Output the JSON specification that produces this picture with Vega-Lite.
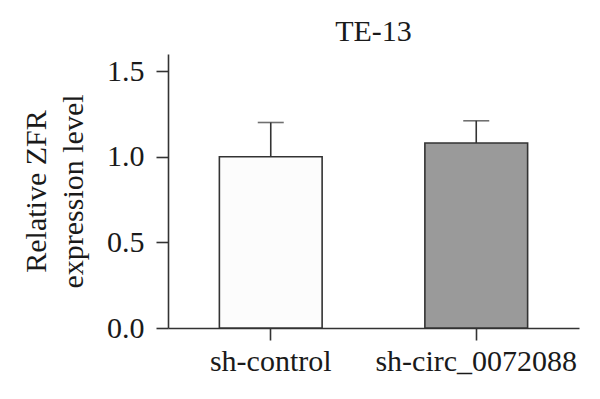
{
  "$schema": "https://vega.github.io/schema/vega-lite/v6.json",
  "autosize": "none",
  "width": 411,
  "height": 274,
  "padding": {"left": 168, "top": 54, "right": 21, "bottom": 71},
  "background": "white",
  "config": {
    "view": {"stroke": null},
    "font": "Liberation Serif",
    "axis": {
      "domainColor": "#333333",
      "domainWidth": 1.6,
      "tickColor": "#333333",
      "tickWidth": 1.6,
      "tickSize": 12,
      "grid": false,
      "labelFont": "Liberation Serif",
      "labelFontSize": 30,
      "labelColor": "#1a1a1a",
      "labelLimit": 400,
      "titleFont": "Liberation Serif",
      "titleFontSize": 30,
      "titleFontWeight": "normal",
      "titleColor": "#1a1a1a"
    },
    "title": {"font": "Liberation Serif", "fontSize": 30, "fontWeight": "normal", "color": "#1a1a1a"}
  },
  "title": {"text": "TE-13", "anchor": "middle", "frame": "group", "offset": 7},
  "data": {
    "values": [
      {"group": "sh-control", "value": 1.0, "upper": 1.2},
      {"group": "sh-circ_0072088", "value": 1.08, "upper": 1.21}
    ]
  },
  "encoding": {
    "x": {
      "field": "group",
      "type": "nominal",
      "sort": null,
      "scale": {"paddingInner": 0.5, "paddingOuter": 0.25},
      "axis": {"title": null, "labelAngle": 0, "labelPadding": 6, "labelLimit": 400}
    }
  },
  "layer": [
    {
      "mark": {"type": "rule", "stroke": "#333333", "strokeWidth": 1.6},
      "encoding": {
        "y": {"field": "value", "type": "quantitative"},
        "y2": {"field": "upper"}
      }
    },
    {
      "mark": {"type": "tick", "orient": "horizontal", "size": 26, "thickness": 1.6, "color": "#333333"},
      "encoding": {
        "y": {"field": "upper", "type": "quantitative"}
      }
    },
    {
      "mark": {"type": "bar", "stroke": "#333333", "strokeWidth": 1.6},
      "encoding": {
        "y": {
          "field": "value",
          "type": "quantitative",
          "scale": {"domain": [0, 1.5]},
          "axis": {
            "title": ["Relative ZFR", "expression level"],
            "values": [0, 0.5, 1.0, 1.5],
            "format": ".1f",
            "labelPadding": 12,
            "titlePadding": 18,
            "titleLineHeight": 37
          }
        },
        "fill": {
          "field": "group",
          "type": "nominal",
          "sort": null,
          "scale": {"domain": ["sh-control", "sh-circ_0072088"], "range": ["#fcfcfc", "#9a9a9a"]},
          "legend": null
        }
      }
    }
  ]
}
